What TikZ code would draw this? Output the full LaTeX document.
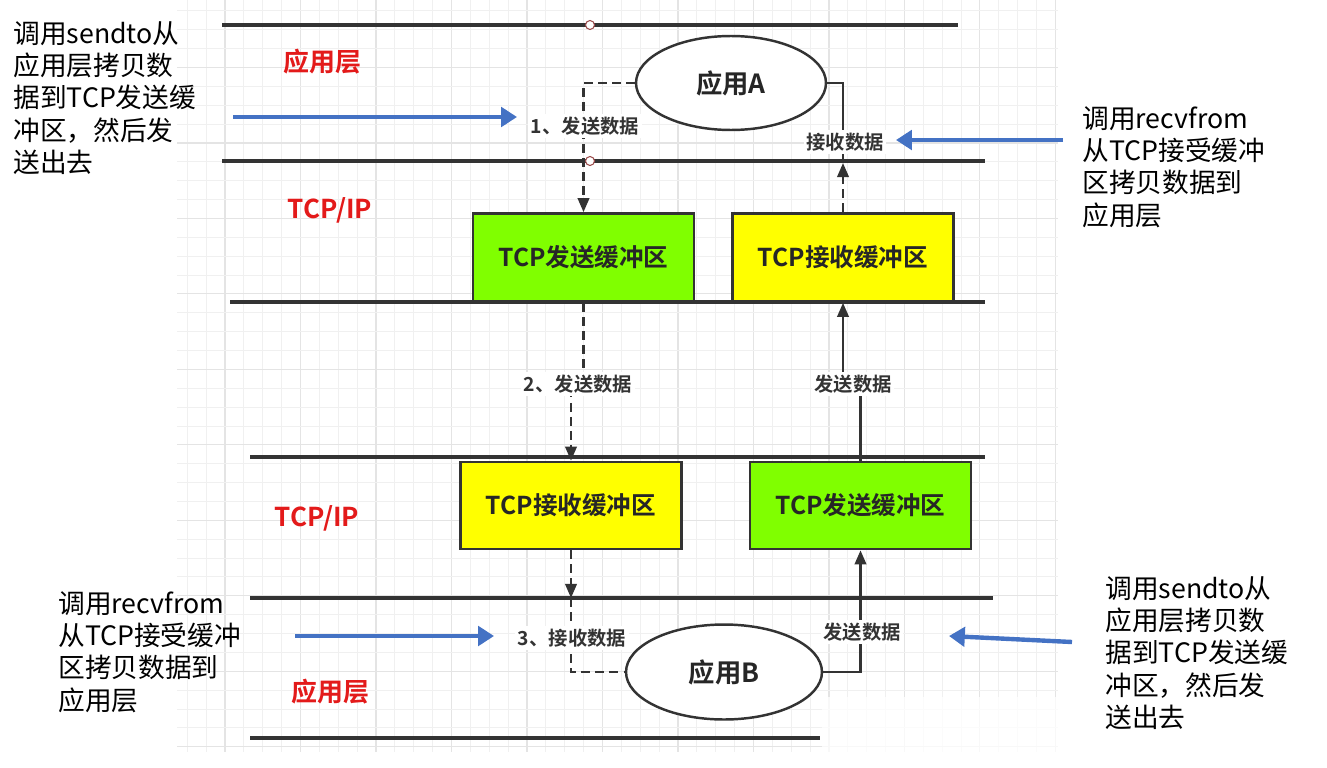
\documentclass[tikz,border=0pt]{standalone}
\usepackage{fontspec}
\setmainfont{Noto Sans CJK SC}[BoldFont={Noto Sans CJK SC Bold}]
\usetikzlibrary{shapes.geometric, arrows.meta, positioning}
\definecolor{bluNota}{HTML}{4472C4}
\definecolor{rossoStrato}{HTML}{E31A1A}
\definecolor{verdeBuf}{HTML}{80FF00}
\definecolor{gialloBuf}{HTML}{FFFF00}
\definecolor{grigioLinea}{HTML}{333333}
\definecolor{grigliaChiara}{HTML}{F0F0F0}
\definecolor{grigliaScura}{HTML}{E4E4E4}

\begin{document}
\begin{tikzpicture}[
  x=0.02cm, y=-0.02cm,
  buffer/.style={draw=grigioLinea, line width=1.5pt, minimum width=4.42cm, minimum height=1.76cm,
                 text=black!85, font=\fontsize{14}{16}\selectfont\bfseries},
  app/.style={ellipse, draw=grigioLinea, line width=1.4pt, fill=white, text=black!85,
              minimum width=3.8cm, minimum height=1.88cm, font=\fontsize{15}{17}\selectfont\bfseries},
  etichetta/.style={fill=white, inner sep=1.5pt, text=black!80, font=\fontsize{11}{13}\selectfont\bfseries},
  strato/.style={text=rossoStrato, font=\fontsize{14.8}{17}\selectfont\bfseries},
  nota/.style={anchor=north west, align=left, inner sep=0pt, font=\fontsize{15.2}{18.4}\selectfont},
  livello/.style={draw=grigioLinea, line width=1.8pt},
  punta/.style={-{Triangle[length=8pt,width=6.5pt]}},
  collegamento/.style={draw=grigioLinea, line width=1.4pt},
  tratteggio/.style={collegamento, dash pattern=on 5pt off 3pt},
  frecciablu/.style={draw=bluNota, line width=2.5pt, -{Triangle[length=9pt,width=11pt]}},
  griglia/.style={draw=grigliaChiara, line width=0.5pt},
  grigliaforte/.style={draw=grigliaScura, line width=0.7pt}
]
\useasboundingbox (0,0) rectangle (1327,767);

% griglia di sfondo
\foreach \i in {0,...,46} {
  \pgfmathtruncatemacro{\r}{mod(\i,4)}
  \ifnum\r=2 \draw[grigliaforte] ({187.3+18.87*\i},0) -- ({187.3+18.87*\i},752);
  \else \draw[griglia] ({187.3+18.87*\i},0) -- ({187.3+18.87*\i},752); \fi
}
\foreach \j in {0,...,39} {
  \pgfmathtruncatemacro{\r}{mod(\j,4)}
  \ifnum\r=3 \draw[grigliaforte] (177,{10.8+18.87*\j}) -- (1058,{10.8+18.87*\j});
  \else \draw[griglia] (177,{10.8+18.87*\j}) -- (1058,{10.8+18.87*\j}); \fi
}
\fill[white, opacity=0.75] (822,697) rectangle (1060,767);

% livelli
\draw[livello] (222,25) -- (958,25);
\draw[livello] (222,161) -- (985,161);
\draw[livello] (230,302) -- (985,302);
\draw[livello] (250,457) -- (985,457);
\draw[livello, line width=2.6pt] (250,598) -- (993,598);
\draw[livello] (250,738) -- (820,738);
\draw[draw=red!45!black!70, fill=white, line width=0.6pt] (590,25) circle[radius=0.09cm];
\draw[draw=red!45!black!70, fill=white, line width=0.6pt] (590,161) circle[radius=0.09cm];

% nodi
\node[app] (appA) at (731,83) {应用A};
\node[buffer, fill=verdeBuf] (invioA) at (583.5,257.5) {TCP发送缓冲区};
\node[buffer, fill=gialloBuf] (ricezA) at (843,257.5) {TCP接收缓冲区};
\node[buffer, fill=gialloBuf, minimum height=1.74cm] (ricezB) at (571,505.5) {TCP接收缓冲区};
\node[buffer, fill=verdeBuf, minimum height=1.74cm] (invioB) at (860.5,505.5) {TCP发送缓冲区};
\node[app, minimum width=3.92cm, minimum height=1.9cm] (appB) at (724,672) {应用B};

\coordinate (sopraA) at (843,163);
\coordinate (sottoB) at (571,598);
\coordinate (meta) at (0,384);

% collegamenti
\draw[tratteggio, punta] (appA.west) -| (invioA.north);
\draw[tratteggio, punta] (ricezA.north) -- (sopraA);
\draw[collegamento] (sopraA) |- (appA.east);
\draw[tratteggio, punta] (invioA.south) -- (invioA.south |- meta) -| (ricezB.north);
\draw[collegamento, punta] (invioB.north) -- (invioB.north |- meta) -| (ricezA.south);
\draw[tratteggio, punta] (ricezB.south) -- (sottoB);
\draw[tratteggio] (sottoB) |- (appB.west);
\draw[collegamento, punta] (appB.east) -| (invioB.south);

\node[etichetta] (passo1) at (585,126) {1、发送数据};
\node[etichetta] (ricA) at (845,142) {接收数据};
\node[etichetta] (passo2) at (578,384) {2、发送数据};
\node[etichetta] (invioAB) at (853,384) {发送数据};
\node[etichetta] (passo3) at (572,638) {3、接收数据};
\node[etichetta] (invioBB) at (862,632) {发送数据};

% strati
\node[strato] (appSopra) at (322,62) {应用层};
\node[strato] (tcpSopra) at (330,210) {TCP/IP};
\node[strato] (tcpSotto) at (317,518) {TCP/IP};
\node[strato] (appSotto) at (330,692) {应用层};

% note
\node[nota] (notaInvioA) at (13,21) {调用sendto从\\应用层拷贝数\\据到TCP发送缓\\冲区，然后发\\送出去};
\node[nota] (notaRicA) at (1082,106) {调用recvfrom\\从TCP接受缓冲\\区拷贝数据到\\应用层};
\node[nota] (notaRicB) at (58,591) {调用recvfrom\\从TCP接受缓冲\\区拷贝数据到\\应用层};
\node[nota] (notaInvioB) at (1105,576) {调用sendto从\\应用层拷贝数\\据到TCP发送缓\\冲区，然后发\\送出去};

\coordinate (blu1a) at (233,117);
\coordinate (blu1b) at (517,117);
\coordinate (blu2a) at (1063,140);
\coordinate (blu2b) at (896,140);
\coordinate (blu3a) at (295,636);
\coordinate (blu3b) at (494,636);
\coordinate (blu4a) at (1072,642);
\coordinate (blu4b) at (949,636);
\draw[frecciablu] (blu1a) -- (blu1b);
\draw[frecciablu] (blu2a) -- (blu2b);
\draw[frecciablu] (blu3a) -- (blu3b);
\draw[frecciablu] (blu4a) -- (blu4b);

\end{tikzpicture}
\end{document}
